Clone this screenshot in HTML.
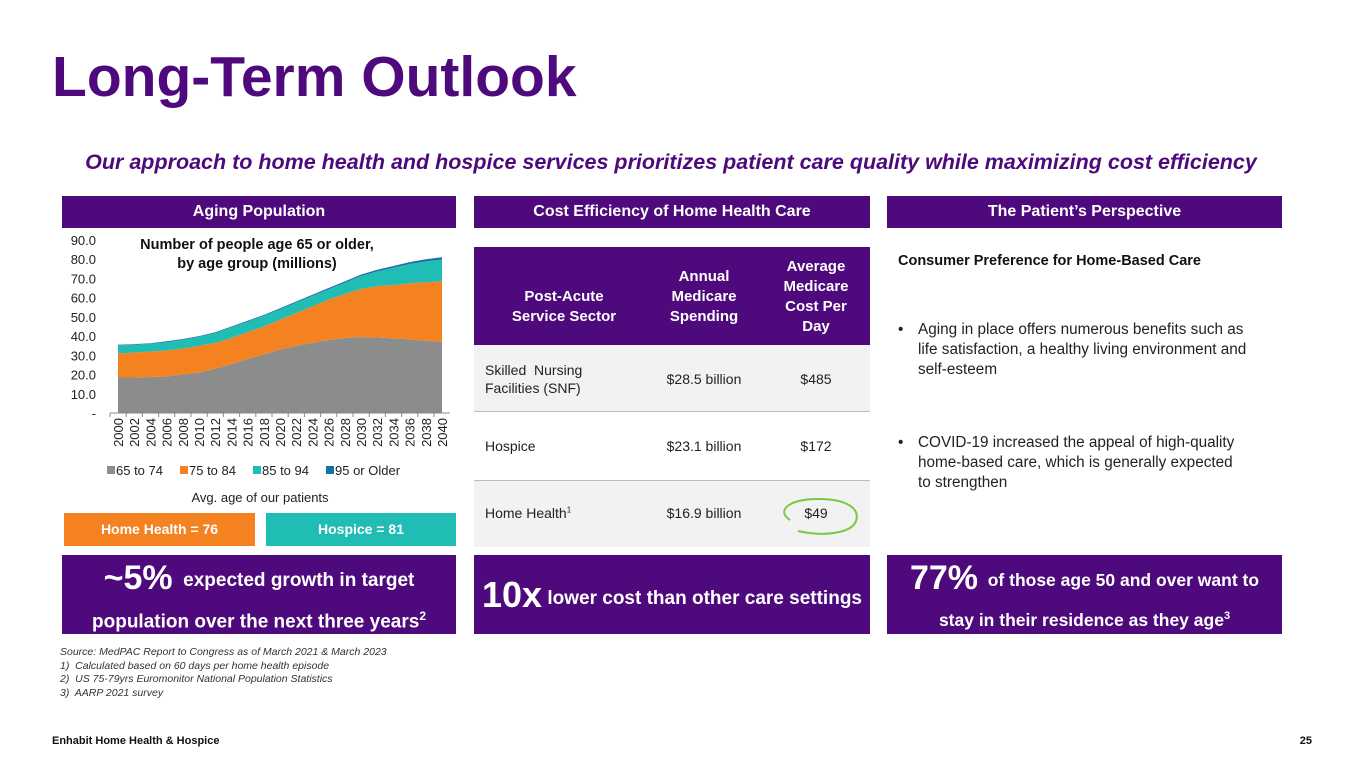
<!DOCTYPE html>
<html><head><meta charset="utf-8">
<style>
*{margin:0;padding:0;box-sizing:border-box}
body{width:1365px;height:768px;background:#fff;font-family:"Liberation Sans",Arial,sans-serif;position:relative;overflow:hidden;color:#222}
.abs{position:absolute}
.hdr{position:absolute;background:#4e0a7d;color:#fff;font-weight:bold;font-size:16px;text-align:center;line-height:32px;height:32px;top:196px}
.ban{position:absolute;background:#4e0a7d;color:#fff;font-weight:bold;top:555px;height:79px;text-align:center}
.ban .l{position:absolute;left:0;right:0;white-space:nowrap}
.cell{position:absolute;font-size:15px;color:#222}
</style></head><body>
<div class="abs" style="left:52px;top:44px;font-size:57px;font-weight:bold;color:#4e0a7d">Long-Term Outlook</div>
<div class="abs" style="left:0;width:1342px;top:150px;text-align:center;font-size:21.5px;font-weight:bold;font-style:italic;color:#4e0a7d;white-space:nowrap">Our approach to home health and hospice services prioritizes patient care quality while maximizing cost efficiency</div>

<div class="hdr" style="left:62px;width:394px">Aging Population</div>
<div class="hdr" style="left:474px;width:396px">Cost Efficiency of Home Health Care</div>
<div class="hdr" style="left:887px;width:395px">The Patient’s Perspective</div>

<svg class="abs" id="chart" style="left:0;top:0" width="470" height="510"></svg>

<div class="abs" style="left:160px;width:200px;top:490px;text-align:center;font-size:13px">Avg. age of our patients</div>
<div class="abs" style="left:64px;width:191px;top:513px;height:33px;background:#f58220;color:#fff;font-weight:bold;font-size:14px;text-align:center;line-height:33px">Home Health = 76</div>
<div class="abs" style="left:266px;width:190px;top:513px;height:33px;background:#20bdb5;color:#fff;font-weight:bold;font-size:14px;text-align:center;line-height:33px">Hospice = 81</div>

<div class="abs" style="left:474px;top:247px;width:396px;height:300px">
  <div class="abs" style="left:0;top:0;width:396px;height:98px;background:#4e0a7d"></div>
  <div class="abs" style="left:0;top:98px;width:396px;height:67px;background:#f2f2f2;border-bottom:1px solid #bbb"></div>
  <div class="abs" style="left:0;top:233px;width:396px;height:67px;background:#f2f2f2;border-top:1px solid #bbb"></div>
  <div class="abs" style="left:10px;width:160px;top:40px;color:#fff;font-weight:bold;font-size:15px;text-align:center;line-height:20px">Post-Acute<br>Service Sector</div>
  <div class="abs" style="left:170px;width:120px;top:20px;color:#fff;font-weight:bold;font-size:15px;text-align:center;line-height:20px">Annual<br>Medicare<br>Spending</div>
  <div class="abs" style="left:290px;width:104px;top:10px;color:#fff;font-weight:bold;font-size:15px;text-align:center;line-height:20px">Average<br>Medicare<br>Cost Per<br>Day</div>
  <div class="cell" style="left:11px;top:114px;line-height:18px;font-size:14px">Skilled&nbsp; Nursing<br>Facilities (SNF)</div>
  <div class="cell" style="left:170px;width:120px;text-align:center;top:124px;font-size:14px">$28.5 billion</div>
  <div class="cell" style="left:290px;width:104px;text-align:center;top:124px;font-size:14px">$485</div>
  <div class="cell" style="left:11px;top:191px;font-size:14px">Hospice</div>
  <div class="cell" style="left:170px;width:120px;text-align:center;top:191px;font-size:14px">$23.1 billion</div>
  <div class="cell" style="left:290px;width:104px;text-align:center;top:191px;font-size:14px">$172</div>
  <div class="cell" style="left:11px;top:258px;font-size:14px">Home Health<sup style="font-size:8px">1</sup></div>
  <div class="cell" style="left:170px;width:120px;text-align:center;top:258px;font-size:14px">$16.9 billion</div>
  <div class="cell" style="left:290px;width:104px;text-align:center;top:258px;font-size:14px">$49</div>
  <svg class="abs" style="left:300px;top:248px" width="90" height="45"><path d="M16 25 C2 16 14 4 44 4 C74 4 86 14 82 26 C78 38 50 42 24 36" fill="none" stroke="#7ac943" stroke-width="2"/></svg>
</div>

<div class="abs" style="left:898px;top:253px;font-size:14.5px;font-weight:bold;color:#111">Consumer Preference for Home-Based Care</div>
<div class="abs" style="left:898px;top:320px;font-size:15.3px;line-height:20px;width:390px;white-space:nowrap"><span style="position:absolute;left:0">•</span><div style="margin-left:20px">Aging in place offers numerous benefits such as<br>life satisfaction, a healthy living environment and<br>self-esteem</div></div>
<div class="abs" style="left:898px;top:433px;font-size:15.3px;line-height:20px;width:390px;white-space:nowrap"><span style="position:absolute;left:0">•</span><div style="margin-left:20px">COVID-19 increased the appeal of high-quality<br>home-based care, which is generally expected<br>to strengthen</div></div>

<div class="ban" style="left:62px;width:394px;font-size:19px">
  <div class="l" style="top:4px;line-height:38px"><span style="font-size:34px;vertical-align:-3px">~5%</span>&nbsp; expected growth in target</div>
  <div class="l" style="top:49px;line-height:24px">population over the next three years<sup style="font-size:12px">2</sup></div>
</div>
<div class="ban" style="left:474px;width:396px;font-size:19px">
  <div class="l" style="top:20px;line-height:40px"><span style="font-size:36px;vertical-align:-3px">10x</span> lower cost than other care settings</div>
</div>
<div class="ban" style="left:887px;width:395px;font-size:17.5px">
  <div class="l" style="top:4px;line-height:38px"><span style="font-size:34px;vertical-align:-3px">77%</span>&nbsp; of those age 50 and over want to</div>
  <div class="l" style="top:49px;line-height:24px">stay in their residence as they age<sup style="font-size:11px">3</sup></div>
</div>

<div class="abs" style="left:60px;top:646px;font-size:10.5px;font-style:italic;line-height:13.5px;color:#333">Source: MedPAC Report to Congress as of March 2021 &amp; March 2023<br>1)&nbsp; Calculated based on 60 days per home health episode<br>2)&nbsp; US 75-79yrs Euromonitor National Population Statistics<br>3)&nbsp; AARP 2021 survey</div>
<div class="abs" style="left:52px;top:735px;font-size:11px;font-weight:bold;color:#111">Enhabit Home Health &amp; Hospice</div>
<div class="abs" style="left:1290px;width:22px;text-align:right;top:735px;font-size:11px;font-weight:bold;color:#111">25</div>

<script>
const years=["2000","2002","2004","2006","2008","2010","2012","2014","2016","2018","2020","2022","2024","2026","2028","2030","2032","2034","2036","2038","2040"];
const s65=[18.5,18.5,18.7,19,20,21,23,25.5,28,30.5,33,35,36.5,38,39,39.5,39.3,38.8,38.3,37.5,37];
const s75=[12.5,13,13.3,13.5,13.5,14,13.5,13.5,14,14.5,15.5,17,19,21,23,25,26.7,27.7,29.2,30.5,31.5];
const s85=[4.2,4.0,4.0,4.4,4.6,4.6,5.1,5.6,5.5,5.5,5.5,5.5,5.4,5.4,5.8,6.8,7.7,9.1,10,10.9,11.3];
const s95=[0.3,0.3,0.3,0.4,0.4,0.4,0.4,0.4,0.5,0.5,0.5,0.5,0.6,0.6,0.7,0.7,0.8,0.9,1.0,1.1,1.2];
const yTicks=["-","10.0","20.0","30.0","40.0","50.0","60.0","70.0","80.0","90.0"];
const seriesNames=["65 to 74","75 to 84","85 to 94","95 or Older"];
const colors=["#8c8c8c","#f58220","#20bdb5","#1b6fa8"];
const NS="http://www.w3.org/2000/svg";
const svg=document.getElementById('chart');
const X0=118,X1=442,Y0=413,Y1=240,YMAX=90;
const xs=i=>X0+(X1-X0)*i/(years.length-1);
const ys=v=>Y0-(Y0-Y1)*v/YMAX;
function mk(t,a){const e=document.createElementNS(NS,t);for(const k in a)e.setAttribute(k,a[k]);svg.appendChild(e);return e;}
const series=[s65,s75,s85,s95];
let base=years.map(()=>0);
series.forEach((s,si)=>{
  const top=s.map((v,i)=>base[i]+v);
  let d="";
  top.forEach((v,i)=>{d+=(i?"L":"M")+xs(i)+" "+ys(v)+" ";});
  for(let i=years.length-1;i>=0;i--)d+="L"+xs(i)+" "+ys(base[i])+" ";
  const p=mk('path',{d:d+"Z",fill:colors[si]});
  
  
  base=top;
});
const ax=mk('line',{x1:X0-8,x2:X1+8,y1:Y0,y2:Y0,stroke:'#888','stroke-width':1});


yTicks.forEach((t,i)=>{
  const e=mk('text',{x:96,y:ys(i*10)+5,'text-anchor':'end','font-size':13,fill:'#222','font-family':'Liberation Sans'});
  e.textContent=t;
  
  
});
years.forEach((y,i)=>{
  const x=xs(i);
  const tk=mk('line',{x1:x-8,x2:x-8,y1:Y0,y2:Y0+4,stroke:'#888'});
  
  
  const e=mk('text',{x:0,y:0,'text-anchor':'end','font-size':13,fill:'#222','font-family':'Liberation Sans',transform:`translate(${x+5},${Y0+5}) rotate(-90)`});
  e.textContent=y;
  
  
});
const lx=[107,180,253,326];
seriesNames.forEach((n,i)=>{
  const r=mk('rect',{x:lx[i],y:466,width:8,height:8,fill:colors[i]});
  
  
  const t=mk('text',{x:lx[i]+9,y:475,'font-size':13,fill:'#222','font-family':'Liberation Sans'});
  t.textContent=n;
  
  
});
["Number of people age 65 or older,","by age group (millions)"].forEach((l,i)=>{
  const t=mk('text',{x:257,y:249+i*19,'text-anchor':'middle','font-size':14.5,'font-weight':'bold',fill:'#111','font-family':'Liberation Sans'});
  t.textContent=l;
  
  
});
</script>
</body></html>
